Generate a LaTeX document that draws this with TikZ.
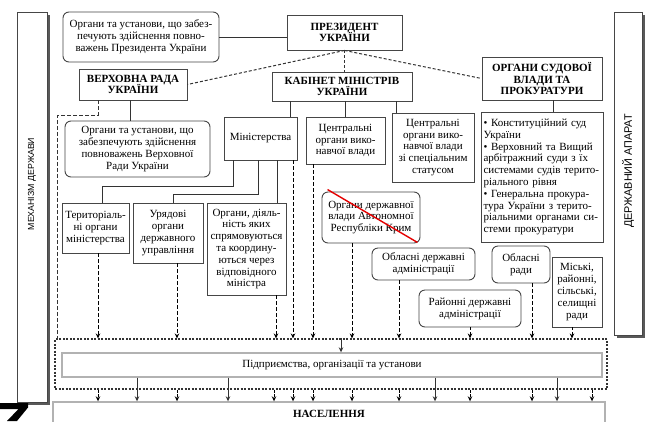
\documentclass[tikz,border=0pt]{standalone}
\usepackage{fontspec}
\setmainfont{Liberation Serif}
\newfontfamily\barfont{Liberation Sans}
\usetikzlibrary{arrows.meta,shadows,calc}
\begin{document}
\begin{tikzpicture}[x=1pt,y=-1pt,
  box/.style={draw=gray!55!black, line width=0.9pt, fill=white, inner sep=1pt, align=center, font=\fontsize{11}{11.8}\selectfont},
  rbox/.style={box, rounded corners=6pt},
  tbox/.style={box, font=\fontsize{11}{11.8}\selectfont\bfseries},
  sz/.style 2 args={minimum width=#1pt, minimum height=#2pt},
  barst/.style={draw=gray!55!black, line width=0.8pt, fill=white, drop shadow={shadow xshift=2.5pt, shadow yshift=-2.5pt, fill=gray!70!black, opacity=1}},
  bigbox/.style={draw=gray!60, line width=1.4pt, fill=white, inner sep=1pt, font=\fontsize{11}{11.8}\selectfont},
  zonest/.style={draw=gray!40!black, line width=1.1pt, dash pattern=on 2pt off 1.5pt},
  con/.style={draw=gray!40!black, line width=0.8pt},
  dsh/.style={draw=black!80, line width=1pt, dash pattern=on 3pt off 2pt},
  tip/.style={-{Stealth[length=5pt,width=4.5pt]}},
  dar/.style={draw=black, line width=0.9pt, dash pattern=on 4pt off 2pt, tip},
  dar2/.style={draw=black, line width=0.8pt, dash pattern=on 3pt off 1.5pt, tip},
  sar/.style={con, tip}
]
\clip (0,0) rectangle (650,421);
\fill[white] (0,0) rectangle (650,421);

% side bars
\node[barst, sz={30}{390}] (mech) at (32,207) {};
\node[font=\barfont\fontsize{8.8}{10}\selectfont, rotate=90] (mechtext) at (32,184) {МЕХАНІЗМ ДЕРЖАВИ};
\node[barst, sz={28}{323}] (apparat) at (628,173.5) {};
\node[font=\barfont\fontsize{10.8}{12}\selectfont, rotate=90] (apptext) at (628,171) {ДЕРЖАВНИЙ АПАРАТ};

% top row
\node[rbox, sz={156}{50}] (presorg) at (141,37) {Органи та установи, що забез-\\печують здійснення повно-\\важень Президента України};
\node[tbox, sz={115}{35}] (pres) at (344.5,32.5) {ПРЕЗИДЕНТ\\УКРАЇНИ};
\node[tbox, sz={108}{31}] (vr) at (133,84.5) {ВЕРХОВНА РАДА\\УКРАЇНИ};
\node[tbox, sz={140}{29}] (km) at (342,86.5) {КАБІНЕТ МІНІСТРІВ\\УКРАЇНИ};
\node[tbox, sz={120}{43}] (sud) at (542,78.5) {ОРГАНИ СУДОВОЇ\\ВЛАДИ ТА\\ПРОКУРАТУРИ};

% second row
\node[rbox, sz={145}{56}] (vrorg) at (137.5,149) {Органи та установи, що\\забезпечують здійснення\\повноважень Верховної\\Ради України};
\node[box, sz={73}{43}] (min) at (260.5,138.5) {Міністерства};
\node[box, sz={79}{47}] (cov) at (345.5,140.5) {Центральні\\органи вико-\\навчої влади};
\node[box, sz={82}{69}] (covs) at (433,147.5) {Центральні\\органи вико-\\навчої влади\\зі спеціальним\\статусом};
\node[box, sz={122}{130}, align=left, text width=117pt] (sudlist) at (542,177) {• Конституційний суд\\України\\• Верховний та Вищий\\арбітражний суди з їх\\системами судів терито-\\ріального рівня\\• Генеральна прокура-\\тура України з терито-\\ріальними органами си-\\стеми прокуратури};

% third row
\node[box, sz={67}{50}] (ter) at (95.5,228) {Територіаль-\\ні органи\\міністерства};
\node[box, sz={70}{60}] (ur) at (168,233) {Урядові\\органи\\державного\\управління};
\node[box, sz={79}{92}] (org) at (246.5,249) {Органи, діяль-\\ність яких\\спрямовуються\\та координу-\\ються через\\відповідного\\міністра};
\node[rbox, sz={98}{51}] (ark) at (371,217.5) {Органи державної\\влади Автономної\\Республіки Крим};
\node[rbox, sz={103}{32}] (oda) at (423.5,264) {Обласні державні\\адміністрації};
\node[rbox, sz={102}{37}] (rda) at (470,308.5) {Районні державні\\адміністрації};
\node[rbox, sz={58}{37}] (obr) at (521,264.5) {Обласні\\ради};
\node[box, sz={50}{70}] (misk) at (577,292) {Міські,\\районні,\\сільські,\\селищні\\ради};

% strike-through
\draw[red!90!black, line width=1.4pt] ([shift={(6,-2)}]ark.north west) -- ([shift={(-3,-1)}]ark.south east);

% bottom
\node[zonest, sz={552}{50}] (zone) at (331,364) {};
\node[bigbox, sz={540}{24}] (pidp) at (332,365) {Підприємства, організації та установи};
\node[bigbox, sz={552}{24}, font=\fontsize{11}{11.8}\selectfont\bfseries] (nas) at (329,414) {НАСЕЛЕННЯ};

% top connectors
\draw[con] (presorg.east) -- (presorg.east -| pres.west);
\draw[dsh] (pres.south) -- (vr.east);
\draw[dsh] (pres.south) -- (pres.south |- km.north);
\draw[dsh] (pres.south) -- (sud.west);
\draw[con] ([xshift=-3pt]vr.south) -- ([xshift=-3pt]vr.south |- vrorg.north);
\draw[con, dash pattern=on 4pt off 2pt] ([xshift=-35pt]vr.south) -- ++(0,15) -| ([xshift=3pt]zone.north west);

% cabinet connectors
\draw[con] ([xshift=-52pt]km.south) -- ([xshift=-52pt]km.south |- min.north);
\draw[con] (cov.north |- km.south) -- (cov.north);
\draw[con] ([xshift=-37pt]covs.north |- km.south) -- ([xshift=-37pt]covs.north);
\draw[con] ([xshift=11pt]sudlist.north |- sud.south) -- ([xshift=11pt]sudlist.north);

% ministry connectors
\draw[con] ([xshift=-27.5pt]min.south) -- ++(0,26) -| ([xshift=6.5pt]ter.north);
\draw[con] ([xshift=-2.5pt]min.south) -- ++(0,34) -| ([xshift=5pt]ur.north);
\draw[con] ([xshift=16.5pt]min.south) -- ([xshift=16.5pt]min.south |- org.north);
\draw[dar] ([xshift=32.5pt]min.south) -- ([xshift=32.5pt]min.south |- zone.north);

% dashed arrows to the zone
\draw[dar] ([xshift=2.5pt]ter.south) -- ([xshift=2.5pt]ter.south |- zone.north);
\draw[dar] ([xshift=9pt]ur.south) -- ([xshift=9pt]ur.south |- zone.north);
\draw[dar] ([xshift=29.5pt]org.south) -- ([xshift=29.5pt]org.south |- zone.north);
\draw[dar] ([xshift=-32.5pt]cov.south) -- ([xshift=-32.5pt]cov.south |- zone.north);
\draw[dar] ([xshift=-19pt]ark.south) -- ([xshift=-19pt]ark.south |- zone.north);
\draw[dar] ([xshift=-24.5pt]oda.south) -- ([xshift=-24.5pt]oda.south |- zone.north);
\draw[dar2] (rda.south) -- (rda.south |- zone.north);
\draw[dar] ([xshift=11pt]obr.south) -- ([xshift=11pt]obr.south |- zone.north);
\draw[dar2] ([xshift=-5pt]misk.south) -- ([xshift=-5pt]misk.south |- zone.north);

% zone to enterprises
\draw[sar] ([xshift=9pt]pidp.north |- zone.north) -- ([xshift=9pt]pidp.north);

% enterprises to population
\foreach \dx in {-195,-104,103,225}
  \draw[sar] ([xshift=\dx pt]pidp.south) -- ([xshift=\dx pt]pidp.south |- nas.north);
\foreach \dx in {-233,-154,-57,-38,-18,21,68,139,201,261}
  \draw[dar2] ([xshift=\dx pt]zone.south) -- ([xshift=\dx pt]zone.south |- nas.north);

% corner mark
\fill[black] (0,403) -- (28,403) -- (28,407.5) -- (17,421) -- (7,421) -- (18.5,409) -- (0,409) -- cycle;
\end{tikzpicture}
\end{document}
